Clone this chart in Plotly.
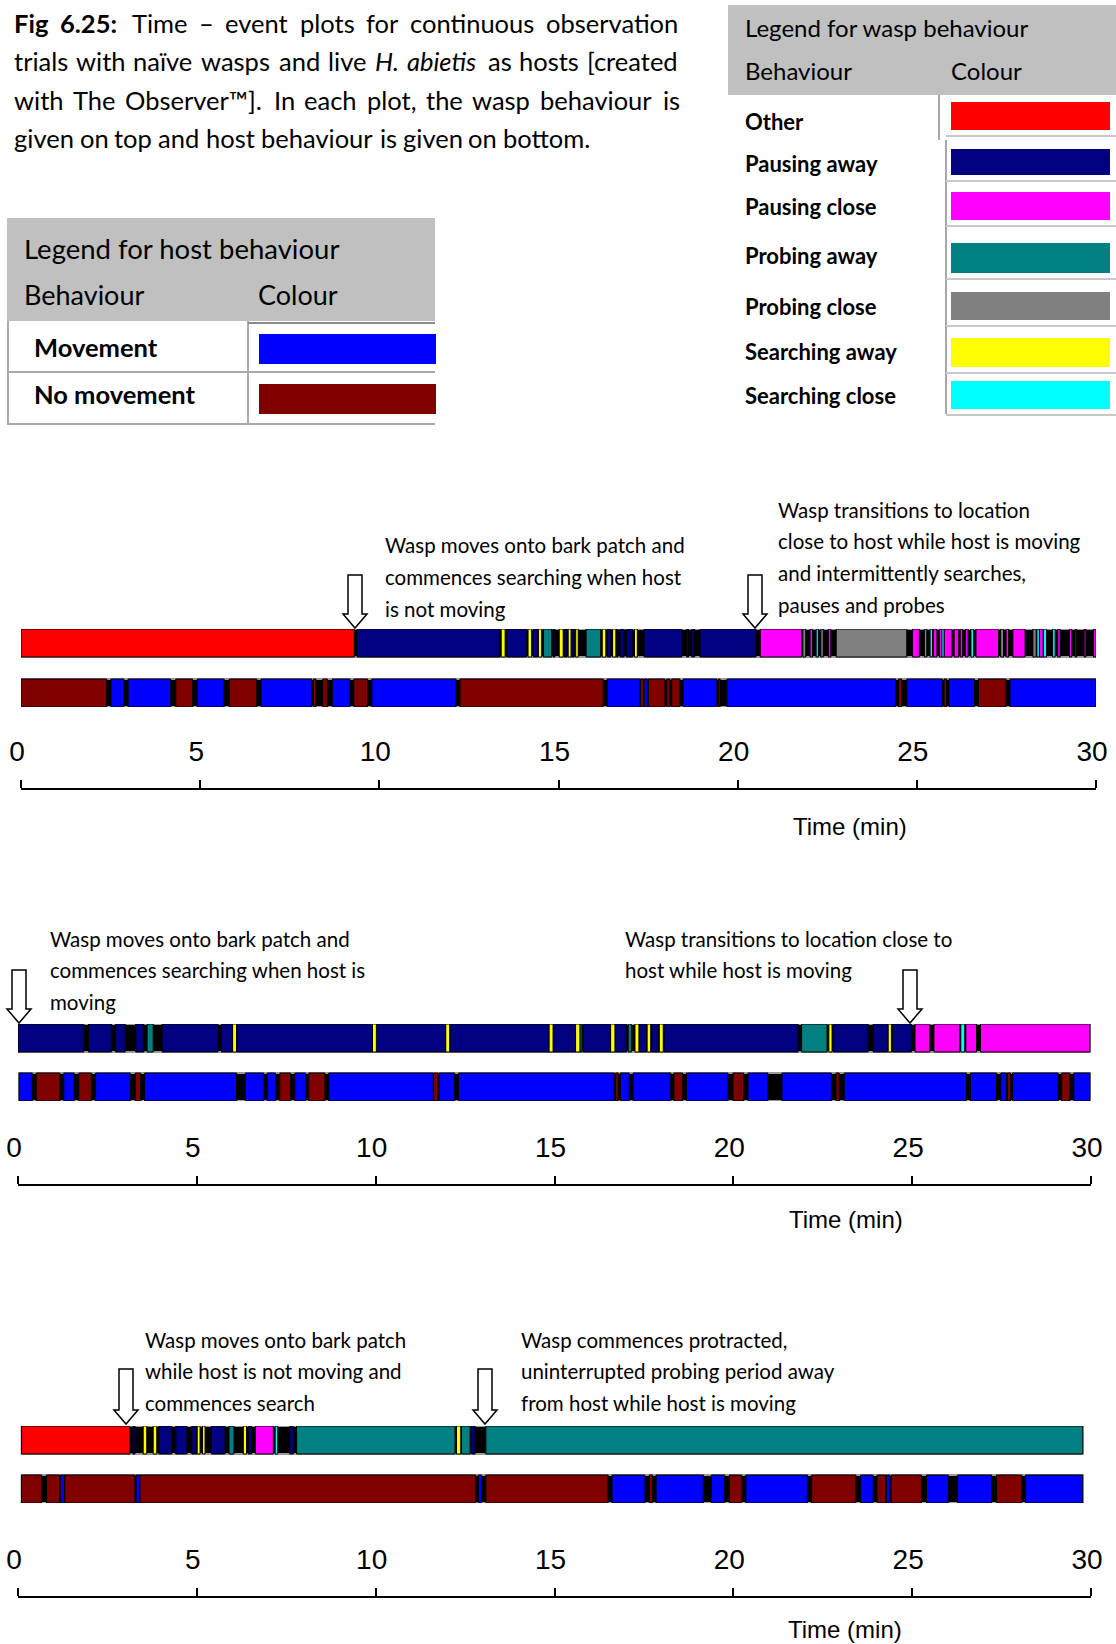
import plotly.graph_objects as go

W, H = 1116, 1644

# ---------------- behaviour categories ----------------
wasp_codes = ["O", "PA", "PC", "RA", "RC", "SA", "SC"]
wasp_names = ["Other", "Pausing away", "Pausing close", "Probing away",
              "Probing close", "Searching away", "Searching close"]
wasp_colors = ["#FF0000", "#000080", "#FF00FF", "#008080", "#808080", "#FFFF00", "#00FFFF"]
host_codes = ["M", "N"]
host_names = ["Movement", "No movement"]
host_colors = ["#0000FF", "#800000"]
COLORS = dict(zip(wasp_codes + host_codes, wasp_colors + host_colors))

tick_values = [0, 5, 10, 15, 20, 25, 30]
tick_labels = ["0", "5", "10", "15", "20", "25", "30"]
axis_title = "Time (min)"

# ---------------- event data (start min, end min, behaviour) ----------------
p1_wasp = [
    (0.00, 9.30, "O"), (9.38, 13.37, "PA"), (13.40, 13.51, "SA"), (13.55, 14.11, "PA"),
    (14.15, 14.25, "SA"), (14.30, 14.42, "PA"), (14.44, 14.53, "SA"), (14.58, 14.81, "RA"),
    (14.85, 14.90, "PA"), (15.02, 15.13, "SA"), (15.16, 15.24, "PA"), (15.27, 15.35, "SA"),
    (15.37, 15.44, "PA"), (15.48, 15.55, "SA"), (15.77, 16.18, "RA"), (16.22, 16.32, "SA"),
    (16.36, 16.46, "PA"), (16.51, 16.60, "SA"), (16.62, 16.66, "PA"), (16.72, 16.83, "PA"),
    (16.89, 17.07, "PA"), (17.12, 17.20, "SA"), (17.39, 18.44, "PA"), (18.58, 18.63, "PA"),
    (18.72, 18.80, "PA"), (18.95, 20.51, "PA"),
    (20.63, 21.79, "PC"), (21.82, 21.90, "RC"), (22.02, 22.09, "PC"), (22.19, 22.25, "SC"),
    (22.32, 22.39, "RC"), (22.53, 22.60, "PC"), (22.75, 24.72, "RC"), (24.88, 25.07, "PC"),
    (25.21, 25.28, "RC"), (25.37, 25.44, "SC"), (25.46, 25.56, "PC"), (25.63, 25.70, "PC"),
    (25.70, 25.76, "SC"), (25.76, 25.98, "PC"), (26.04, 26.17, "PC"), (26.21, 26.28, "PC"),
    (26.36, 26.43, "PC"), (26.51, 26.58, "SC"), (26.65, 27.28, "PC"), (27.34, 27.42, "RC"),
    (27.49, 27.56, "PC"), (27.68, 28.02, "PC"), (28.24, 28.33, "RC"), (28.35, 28.42, "SC"),
    (28.42, 28.53, "PC"), (28.53, 28.62, "SC"), (28.79, 28.86, "SC"), (28.93, 29.00, "PC"),
    (29.26, 29.32, "PC"), (29.42, 29.46, "RC"), (29.67, 29.72, "PC"), (29.93, 30.00, "PC"),
]
p1_host = [
    (0.00, 2.39, "N"), (2.51, 2.87, "M"), (2.99, 4.18, "M"), (4.32, 4.79, "N"),
    (4.92, 5.67, "M"), (5.81, 6.58, "N"), (6.70, 8.11, "M"), (8.16, 8.23, "N"),
    (8.42, 8.55, "N"), (8.69, 9.18, "M"), (9.29, 9.67, "N"), (9.79, 12.14, "M"),
    (12.25, 16.25, "N"), (16.36, 17.28, "M"), (17.29, 17.37, "N"), (17.39, 17.48, "M"),
    (17.51, 17.97, "N"), (18.02, 18.11, "N"), (18.16, 18.39, "N"), (18.48, 19.42, "M"),
    (19.46, 19.51, "N"), (19.70, 24.41, "M"), (24.49, 24.58, "N"), (24.72, 25.71, "M"),
    (25.76, 25.83, "N"), (25.90, 26.61, "M"), (26.72, 27.49, "N"), (27.60, 30.00, "M"),
]
p2_wasp = [
    (0.00, 1.84, "PA"), (1.97, 2.61, "PA"), (2.73, 3.00, "PA"), (3.29, 3.52, "PA"),
    (3.61, 3.78, "RA"), (4.03, 5.59, "PA"), (5.69, 6.00, "PA"), (6.00, 6.11, "SA"),
    (6.13, 9.91, "PA"), (9.91, 10.02, "SA"), (10.02, 11.96, "PA"), (11.96, 12.07, "SA"),
    (12.07, 14.85, "PA"), (14.85, 14.96, "SA"), (14.96, 15.59, "PA"), (15.59, 15.71, "SA"),
    (15.71, 15.77, "RA"), (15.80, 16.57, "PA"), (16.57, 16.69, "SA"), (16.69, 17.01, "PA"),
    (17.06, 17.15, "RA"), (17.25, 17.36, "SA"), (17.36, 17.57, "PA"), (17.59, 17.69, "SA"),
    (17.71, 17.92, "PA"), (17.93, 18.04, "SA"), (18.06, 21.81, "PA"), (21.91, 22.62, "RA"),
    (22.67, 22.76, "SA"), (22.79, 23.77, "PA"), (23.91, 24.31, "PA"), (24.33, 24.42, "SA"),
    (24.45, 24.98, "PA"), (25.08, 25.49, "PC"), (25.61, 26.33, "PC"), (26.36, 26.47, "SC"),
    (26.50, 26.80, "PC"), (26.91, 29.97, "PC"),
]
p2_host = [
    (0.03, 0.40, "M"), (0.51, 1.17, "N"), (1.28, 1.57, "M"), (1.70, 2.05, "N"),
    (2.17, 3.14, "M"), (3.28, 3.43, "N"), (3.54, 6.11, "M"), (6.36, 6.87, "M"),
    (6.97, 7.20, "M"), (7.32, 7.62, "N"), (7.74, 8.04, "M"), (8.13, 8.58, "N"),
    (8.69, 11.61, "M"), (11.62, 11.74, "N"), (11.77, 12.21, "M"), (12.32, 16.67, "M"),
    (16.71, 16.78, "N"), (16.84, 17.09, "M"), (17.20, 18.25, "M"), (18.34, 18.58, "N"),
    (18.69, 19.85, "M"), (19.99, 20.29, "N"), (20.41, 20.97, "M"), (21.36, 22.74, "M"),
    (22.87, 22.96, "N"), (23.10, 26.52, "M"), (26.63, 27.36, "M"), (27.48, 27.64, "M"),
    (27.66, 27.75, "N"), (27.81, 29.08, "M"), (29.18, 29.41, "N"), (29.52, 29.97, "M"),
]
p3_wasp = [
    (0.10, 3.13, "O"), (3.21, 3.27, "PA"), (3.50, 3.60, "SA"), (3.78, 3.88, "SA"),
    (3.94, 4.30, "PA"), (4.41, 4.72, "PA"), (4.86, 5.00, "PA"), (5.01, 5.09, "SA"),
    (5.16, 5.23, "SA"), (5.41, 5.79, "PA"), (5.90, 6.04, "RA"), (6.30, 6.39, "SA"),
    (6.44, 6.53, "PA"), (6.64, 7.14, "PC"), (7.19, 7.26, "SC"), (7.60, 7.70, "PA"),
    (7.79, 12.22, "RA"), (12.26, 12.38, "SA"), (12.40, 12.64, "RA"), (12.68, 12.78, "PA"),
    (13.08, 29.77, "RA"),
]
p3_host = [
    (0.10, 0.66, "N"), (0.80, 1.17, "N"), (1.19, 1.31, "M"), (1.31, 3.27, "N"),
    (3.30, 3.41, "M"), (3.41, 12.80, "N"), (12.87, 12.96, "M"), (13.08, 16.50, "N"),
    (16.61, 17.53, "M"), (17.65, 17.74, "N"), (17.84, 19.16, "M"), (19.39, 19.76, "M"),
    (19.89, 20.23, "N"), (20.35, 22.07, "M"), (22.19, 23.43, "N"), (23.56, 23.91, "M"),
    (24.02, 24.26, "N"), (24.28, 24.38, "M"), (24.42, 25.26, "N"), (25.40, 26.01, "M"),
    (26.27, 27.22, "M"), (27.36, 28.06, "N"), (28.17, 29.77, "M"),
]

p1_notes = [["Wasp moves onto bark patch and", "commences searching when host", "is not moving"],
            ["Wasp transitions to location", "close to host while host is moving",
             "and intermittently searches,", "pauses and probes"]]
p2_notes = [["Wasp moves onto bark patch and", "commences searching when host is", "moving"],
            ["Wasp transitions to location close to", "host while host is moving"]]
p3_notes = [["Wasp moves onto bark patch", "while host is not moving and", "commences search"],
            ["Wasp commences protracted,", "uninterrupted probing period away",
             "from host while host is moving"]]

# caption words per line (style tag: "b" bold, "i" italic, "" regular)
caption_words = [
    [("Fig", "b"), ("6.25:", "b"), ("Time", ""), ("\u2013", ""), ("event", ""), ("plots", ""),
     ("for", ""), ("continuous", ""), ("observation", "")],
    [("trials", ""), ("with", ""), ("na\u00efve", ""), ("wasps", ""), ("and", ""), ("live", ""),
     ("H.", "i"), ("abietis", "i"), ("as", ""), ("hosts", ""), ("[created", "")],
    [("with", ""), ("The", ""), ("Observer\u2122].", ""), ("In", ""), ("each", ""), ("plot,", ""),
     ("the", ""), ("wasp", ""), ("behaviour", ""), ("is", "")],
    [("given", ""), ("on", ""), ("top", ""), ("and", ""), ("host", ""), ("behaviour", ""),
     ("is", ""), ("given", ""), ("on", ""), ("bottom.", "")],
]

# ---------------- layout helpers (pixel -> paper) ----------------
TEXT_DX = -2  # compensates annotation padding for left-anchored text


def PX(x):
    return x / W


def PY(y):
    return 1 - y / H


TEXT_FONT = "Lato, Calibri, Carlito, Open Sans, sans-serif"
AXIS_FONT = "Liberation Sans, Arial, sans-serif"

plots = [
    dict(wasp=p1_wasp, host=p1_host, xpx=(21, 1096), wpx=(629, 657), hpx=(679, 707),
         line=789, title=(850, 826), notes=p1_notes,
         note_pos=[(385, [545, 577, 609]), (778, [510, 541, 573, 605])],
         arrows=[(355, 575, 628), (755, 575, 628)]),
    dict(wasp=p2_wasp, host=p2_host, xpx=(18, 1091), wpx=(1024, 1052), hpx=(1073, 1101),
         line=1185, title=(846, 1219), notes=p2_notes,
         note_pos=[(50, [939, 970, 1002]), (625, [939, 970])],
         arrows=[(19, 970, 1023), (910, 970, 1023)]),
    dict(wasp=p3_wasp, host=p3_host, xpx=(18, 1091), wpx=(1426, 1454), hpx=(1475, 1503),
         line=1597, title=(845, 1629), notes=p3_notes,
         note_pos=[(145, [1340, 1371, 1403]), (521, [1340, 1371, 1403])],
         arrows=[(126, 1369, 1424), (485, 1369, 1424)]),
]

fig = go.Figure()
shapes = []
annotations = []
layout_axes = {}

for i, pl in enumerate(plots, start=1):
    xa = "x" if i == 1 else f"x{i}"
    ya = "y" if i == 1 else f"y{i}"
    wc = sum(pl["wpx"]) / 2
    hc = sum(pl["hpx"]) / 2
    unit = hc - wc
    bw = (pl["wpx"][1] - pl["wpx"][0]) / unit
    for row, segs, codes in ((1, pl["wasp"], wasp_codes), (0, pl["host"], host_codes)):
        s0 = min(s for s, e, b in segs)
        e0 = max(e for s, e, b in segs)
        fig.add_trace(go.Bar(orientation="h", y=[row], base=[s0], x=[e0 - s0], width=bw,
                             marker=dict(color="black", line=dict(color="#9a9a9a", width=2)),
                             xaxis=xa, yaxis=ya, showlegend=False, hoverinfo="skip"))
        for code in codes:
            sel = [(s, e) for s, e, b in segs if b == code]
            if not sel:
                continue
            fig.add_trace(go.Bar(orientation="h", y=[row] * len(sel),
                                 base=[s for s, e in sel], x=[e - s for s, e in sel],
                                 width=bw,
                                 marker=dict(color=COLORS[code], line=dict(color="black", width=1)),
                                 xaxis=xa, yaxis=ya, showlegend=False, hoverinfo="skip"))
    layout_axes["xaxis" if i == 1 else f"xaxis{i}"] = dict(
        domain=[PX(pl["xpx"][0]), PX(pl["xpx"][1])], range=[0, 30],
        anchor="free", position=PY(pl["line"]), side="top",
        tickvals=tick_values, ticktext=tick_labels,
        ticks="outside", ticklen=8, tickwidth=1.5, tickcolor="black",
        showline=True, linecolor="black", linewidth=2,
        showgrid=False, zeroline=False, fixedrange=True, automargin=False,
        ticklabelstandoff=8, ticklabelshift=-4,
        tickfont=dict(family=AXIS_FONT, size=28, color="black"))
    layout_axes["yaxis" if i == 1 else f"yaxis{i}"] = dict(
        domain=[PY(pl["hpx"][1]), PY(pl["wpx"][0])],
        range=[-(pl["hpx"][1] - hc) / unit, 1 + (wc - pl["wpx"][0]) / unit],
        visible=False, fixedrange=True, anchor=xa)
    # axis title
    annotations.append(dict(x=PX(pl["title"][0]), y=PY(pl["title"][1]), xref="paper", yref="paper",
                            text=axis_title, showarrow=False, xanchor="center", yanchor="middle",
                            font=dict(family=AXIS_FONT, size=24, color="black")))
    # notes
    for lines, (nx, ys) in zip(pl["notes"], pl["note_pos"]):
        for t, yy in zip(lines, ys):
            annotations.append(dict(x=PX(nx + TEXT_DX), y=PY(yy), xref="paper", yref="paper",
                                    text=t, showarrow=False, xanchor="left", yanchor="middle",
                                    font=dict(family=TEXT_FONT, size=20.5, color="black")))
    # hollow arrows
    for cx, top, tip in pl["arrows"]:
        sw, hw, hh = 7, 12, 14
        pts = [(cx - sw, top), (cx - sw, tip - hh), (cx - hw, tip - hh), (cx, tip),
               (cx + hw, tip - hh), (cx + sw, tip - hh), (cx + sw, top)]
        path = "M " + " L ".join(f"{PX(a):.5f},{PY(b):.5f}" for a, b in pts) + " Z"
        shapes.append(dict(type="path", path=path, xref="paper", yref="paper",
                           fillcolor="white", line=dict(color="black", width=1.5)))

# ---------------- caption (justified, word by word) ----------------
CW = dict(a=.50, b=.55, c=.45, d=.55, e=.51, f=.32, g=.49, h=.55, i=.23, j=.23, k=.49, l=.23,
          m=.83, n=.55, o=.55, p=.55, q=.55, r=.36, s=.42, t=.34, u=.55, v=.50, w=.76, x=.49,
          y=.50, z=.44)
CW.update({"F": .55, "T": .56, "H": .72, "O": .75, "I": .27, "\u00ef": .23, ".": .22, ":": .22,
           ",": .22, "\u2013": .55, "[": .30, "]": .30, "\u2122": .80})
for dg in "0123456789":
    CW[dg] = .58
SPACE_EM = .21
CAP_SIZE = 25.5
CAP_LEFT, CAP_RIGHT = 14 + TEXT_DX, 680 + TEXT_DX


def est(word, style):
    w = sum(CW.get(ch, .55) for ch in word) * CAP_SIZE
    return w * (1.05 if style == "b" else 1.0)


# calibrate the estimate with the measured rendered width of the last (unjustified) line
last = caption_words[-1]
est_last = sum(est(w, s) for w, s in last) + SPACE_EM * CAP_SIZE * (len(last) - 1)
k = (567 * CAP_SIZE / 25) / est_last

for li, (words, yy) in enumerate(zip(caption_words, [23, 61, 100, 138])):
    widths = [k * est(w, s) for w, s in words]
    if li < len(caption_words) - 1:
        gap = (CAP_RIGHT - CAP_LEFT - sum(widths)) / (len(words) - 1)
    else:
        gap = k * SPACE_EM * CAP_SIZE
    xpos = CAP_LEFT
    for (w, s), wd in zip(words, widths):
        txt = f"<b>{w}</b>" if s == "b" else (f"<i>{w}</i>" if s == "i" else w)
        annotations.append(dict(x=PX(xpos), y=PY(yy), xref="paper", yref="paper", text=txt,
                                showarrow=False, xanchor="left", yanchor="middle",
                                font=dict(family=TEXT_FONT, size=CAP_SIZE, color="black")))
        xpos += wd + gap

# ---------------- host legend table ----------------
GRAY = "#C0C0C0"
BORDER = "#A8A8A8"


def rect(x0, y0, x1, y1, fill, line=None, lw=0):
    shapes.append(dict(type="rect", xref="paper", yref="paper", x0=PX(x0), x1=PX(x1),
                       y0=PY(y1), y1=PY(y0), fillcolor=fill,
                       line=dict(color=line or fill, width=lw), layer="above"))


def hline(x0, x1, y, color=BORDER, w=2):
    shapes.append(dict(type="line", xref="paper", yref="paper", x0=PX(x0), x1=PX(x1),
                       y0=PY(y), y1=PY(y), line=dict(color=color, width=w)))


def vline(x, y0, y1, color=BORDER, w=2):
    shapes.append(dict(type="line", xref="paper", yref="paper", x0=PX(x), x1=PX(x),
                       y0=PY(y0), y1=PY(y1), line=dict(color=color, width=w)))


def label(x, y, t, size, bold=False):
    annotations.append(dict(x=PX(x + TEXT_DX), y=PY(y), xref="paper", yref="paper",
                            text=f"<b>{t}</b>" if bold else t, showarrow=False,
                            xanchor="left", yanchor="middle",
                            font=dict(family=TEXT_FONT, size=size, color="black")))


rect(7, 218, 435, 321, GRAY)
vline(8, 321, 425)
hline(7, 435, 424)
hline(7, 435, 372)
vline(248, 321, 425)
hline(248, 435, 323, "#8c8c8c", 2)
label(24, 248, "Legend for host behaviour", 27.5)
label(24, 295, "Behaviour", 27)
label(258, 295, "Colour", 27)
host_swatch_y = [(334, 364), (384, 414)]
host_label_y = [347, 394]
for name, col, (y0, y1), ly in zip(host_names, host_colors, host_swatch_y, host_label_y):
    rect(259, y0, 436, y1, col)
    label(34, ly, name, 25.5, bold=True)

# ---------------- wasp legend table ----------------
rect(728, 5, 1117, 95, GRAY)
label(745, 28, "Legend for wasp behaviour", 24)
label(745, 70, "Behaviour", 24)
label(951, 70, "Colour", 24)
wasp_swatch_y = [(102, 130), (149, 175), (192, 220), (243, 273), (292, 320), (338, 367), (381, 409)]
wasp_label_y = [122, 164, 206, 255, 307, 352, 395]
vline(939, 95, 140)
vline(946, 140, 414)
for name, col, (y0, y1), ly in zip(wasp_names, wasp_colors, wasp_swatch_y, wasp_label_y):
    hline(946, 1116, y1 + 6, "#C8C8C8", 2)
    rect(951, y0, 1110, y1, col)
    label(745, ly, name, 22, bold=True)

fig.update_layout(
    width=W, height=H, autosize=False,
    margin=dict(l=0, r=0, t=0, b=0, pad=0, autoexpand=False),
    paper_bgcolor="white", plot_bgcolor="rgba(0,0,0,0)",
    barmode="overlay", showlegend=False,
    shapes=shapes, annotations=annotations, **layout_axes,
)

fig.write_html("out.html", config={"displayModeBar": False, "responsive": False},
               post_script="document.body.style.margin='0';")
